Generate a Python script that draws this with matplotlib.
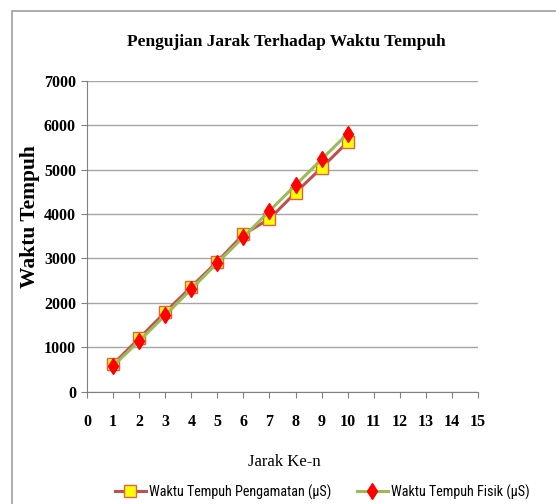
import matplotlib
matplotlib.use("Agg")
from matplotlib import pyplot as plt
from matplotlib.patches import Rectangle
from matplotlib import font_manager

# Data
JARAK = [1, 2, 3, 4, 5, 6, 7, 8, 9, 10]
PENGAMATAN = [620, 1200, 1790, 2360, 2930, 3540, 3890, 4480, 5040, 5620]
FISIK = [580, 1140, 1720, 2310, 2900, 3480, 4070, 4650, 5230, 5810]
X_TICKS = list(range(0, 16))
Y_TICKS = list(range(0, 7001, 1000))

TITLE = "Pengujian Jarak Terhadap Waktu Tempuh"
X_LABEL = "Jarak Ke-n"
Y_LABEL = "Waktu Tempuh"
LABEL_PENGAMATAN = "Waktu Tempuh Pengamatan (µS)"
LABEL_FISIK = "Waktu Tempuh Fisik (µS)"

# Style
RED_LINE = "#C0504D"
GREEN_LINE = "#9BBB59"
GRID_COLOR = "#A6A6A6"
SERIF = ["Liberation Serif", "DejaVu Serif"]
installed = {f.name for f in font_manager.fontManager.ttflist}
NARROW = [f for f in ("Liberation Sans Narrow", "Roboto Condensed", "Roboto", "DejaVu Sans")
          if f in installed][:1] + ["DejaVu Sans"]
W, H = 556, 504

fig = plt.figure(figsize=(W / 100, H / 100), dpi=100)
ax = fig.add_axes([87 / W, 1 - 391.7 / H, (478 - 87) / W, (391.7 - 80.7) / H])

# Chart area border
fig.patches.append(Rectangle((12 / W, -0.1), 1.2, 1 - 11 / H + 0.1,
                             transform=fig.transFigure, fill=False,
                             edgecolor="#A0A0A0", linewidth=1.2))

ax.plot(JARAK, PENGAMATAN, color=RED_LINE, linewidth=2.2, marker="s",
        markersize=8, markerfacecolor="#FFFF00", markeredgecolor="#E0604D",
        markeredgewidth=1, label=LABEL_PENGAMATAN, zorder=3)
ax.plot(JARAK, FISIK, color=GREEN_LINE, linewidth=2.2, marker="d",
        markersize=8.5, markerfacecolor="#FF0000", markeredgecolor="#FF0000",
        label=LABEL_FISIK, zorder=4)

ax.set_xlim(0, 15)
ax.set_ylim(0, 7000)
ax.set_xticks(X_TICKS)
ax.set_yticks(Y_TICKS)
ax.yaxis.grid(True, color=GRID_COLOR, linewidth=1)
ax.set_axisbelow(True)
for side in ("top", "right"):
    ax.spines[side].set_visible(False)
for side in ("left", "bottom"):
    ax.spines[side].set_color("#808080")
ax.tick_params(axis="both", direction="out", length=4, color="#808080",
               labelsize=11.5, pad=4)
for lbl in ax.get_xticklabels() + ax.get_yticklabels():
    lbl.set_family(SERIF)
    lbl.set_fontweight("bold")
ax.tick_params(axis="x", pad=12)

fig.text(286 / W, 1 - 42 / H, TITLE, ha="center", va="center",
         family=SERIF, fontweight="bold", fontsize=12.5)
fig.text(284 / W, 1 - 462 / H, X_LABEL, ha="center", va="center",
         family=SERIF, fontsize=12)
fig.text(30 / W, 1 - 217 / H, Y_LABEL, ha="center", va="center",
         rotation=90, family=SERIF, fontweight="bold", fontsize=15.5)

fig.legend(loc="center", bbox_to_anchor=(322 / W, 1 - 492 / H), ncol=2,
           frameon=False, prop={"family": NARROW, "size": 10.2},
           handlelength=2.2, handletextpad=0.2, columnspacing=1.8)

fig.savefig("out.png", dpi=100)
